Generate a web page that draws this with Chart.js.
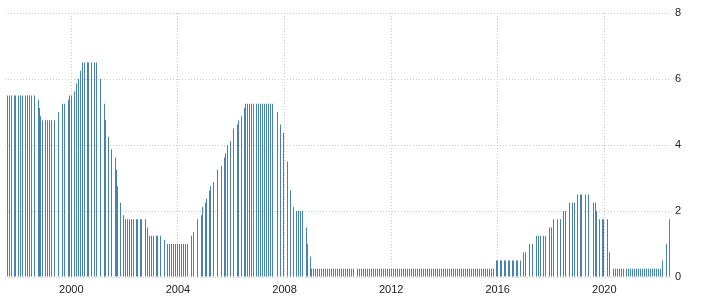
<!DOCTYPE html>
<html>
<head>
<meta charset="utf-8">
<script src="https://cdn.jsdelivr.net/npm/chart.js@4"></script>
<style>
  html, body { margin: 0; padding: 0; background: #fff; }
  #wrap { width: 703px; height: 304px; }
</style>
</head>
<body>
<div id="wrap"><canvas id="rateChart"></canvas></div>
<script>
// observation dates (decimal years) and the rate (%) at each one
const dates = [
    1997.60, 1997.67, 1997.75, 1997.85, 1997.92,
    1998.00, 1998.08, 1998.16, 1998.27, 1998.35, 1998.42, 1998.50, 1998.60, 1998.75, 1998.79, 1998.86, 1998.90,
    1999.02, 1999.10, 1999.17, 1999.25, 1999.36, 1999.51, 1999.65, 1999.76, 1999.88, 1999.92, 1999.99,
    2000.10, 2000.21, 2000.25, 2000.33, 2000.40, 2000.51, 2000.59, 2000.66, 2000.74, 2000.85, 2000.93,
    2001.08, 2001.23, 2001.30, 2001.38, 2001.49, 2001.64, 2001.71, 2001.75, 2001.86, 2001.94,
    2002.02, 2002.09, 2002.17, 2002.24, 2002.32, 2002.43, 2002.50, 2002.58, 2002.65, 2002.77, 2002.84, 2002.92, 2002.99,
    2003.10, 2003.18, 2003.25, 2003.33, 2003.48, 2003.59, 2003.67, 2003.74, 2003.82, 2003.89, 2003.97,
    2004.04, 2004.12, 2004.19, 2004.27, 2004.34, 2004.49, 2004.60, 2004.72, 2004.75, 2004.87, 2004.94,
    2005.02, 2005.09, 2005.20, 2005.24, 2005.32, 2005.50, 2005.62, 2005.73, 2005.78, 2005.85, 2005.97,
    2006.08, 2006.23, 2006.27, 2006.38, 2006.49, 2006.53, 2006.60, 2006.68, 2006.75, 2006.83, 2006.94,
    2007.02, 2007.09, 2007.17, 2007.24, 2007.32, 2007.39, 2007.47, 2007.54, 2007.73, 2007.84, 2007.95,
    2008.11, 2008.22, 2008.33, 2008.44, 2008.52, 2008.59, 2008.67, 2008.82, 2008.86, 2008.97,
    2009.01, 2009.08, 2009.16, 2009.23, 2009.31, 2009.38, 2009.46, 2009.53, 2009.61, 2009.68, 2009.76, 2009.83, 2009.91, 2009.98,
    2010.06, 2010.13, 2010.21, 2010.28, 2010.36, 2010.43, 2010.51, 2010.58, 2010.73, 2010.81, 2010.88, 2010.96,
    2011.03, 2011.11, 2011.18, 2011.26, 2011.33, 2011.41, 2011.48, 2011.56, 2011.63, 2011.71, 2011.78, 2011.86, 2011.93,
    2012.01, 2012.08, 2012.16, 2012.23, 2012.31, 2012.38, 2012.46, 2012.53, 2012.61, 2012.68, 2012.76, 2012.83, 2012.91, 2012.98,
    2013.06, 2013.13, 2013.21, 2013.28, 2013.36, 2013.43, 2013.51, 2013.58, 2013.66, 2013.73, 2013.81, 2013.88, 2013.96,
    2014.03, 2014.11, 2014.18, 2014.26, 2014.33, 2014.41, 2014.48, 2014.56, 2014.63, 2014.71, 2014.78, 2014.86, 2014.93,
    2015.01, 2015.08, 2015.16, 2015.23, 2015.31, 2015.38, 2015.46, 2015.53, 2015.61, 2015.68, 2015.76, 2015.83, 2015.94,
    2016.01, 2016.09, 2016.16, 2016.24, 2016.31, 2016.39, 2016.46, 2016.54, 2016.61, 2016.69, 2016.76, 2016.84, 2016.96,
    2017.06, 2017.21, 2017.31, 2017.44, 2017.54, 2017.61, 2017.71, 2017.81, 2017.94,
    2018.01, 2018.11, 2018.24, 2018.34, 2018.46, 2018.56, 2018.71, 2018.79, 2018.89, 2018.99,
    2019.09, 2019.16, 2019.29, 2019.41, 2019.59, 2019.66, 2019.70, 2019.81, 2019.92, 2019.96,
    2020.11, 2020.18, 2020.34, 2020.41, 2020.49, 2020.56, 2020.64, 2020.71, 2020.83, 2020.90, 2020.98,
    2021.05, 2021.13, 2021.20, 2021.28, 2021.35, 2021.43, 2021.50, 2021.58, 2021.65, 2021.73, 2021.80, 2021.88, 2021.95,
    2022.03, 2022.10, 2022.17, 2022.20, 2022.33, 2022.44
];

const rates = [
    5.5, 5.5, 5.5, 5.5, 5.5,
    5.5, 5.5, 5.5, 5.5, 5.5, 5.5, 5.5, 5.5, 5.375, 5.125, 4.875, 4.75,
    4.75, 4.75, 4.75, 4.75, 4.75, 5.0, 5.25, 5.25, 5.375, 5.5, 5.5,
    5.625, 5.875, 6.0, 6.25, 6.5, 6.5, 6.5, 6.5, 6.5, 6.5, 6.5,
    6.0, 5.25, 4.75, 4.25, 3.875, 3.625, 3.25, 2.75, 2.25, 1.875,
    1.75, 1.75, 1.75, 1.75, 1.75, 1.75, 1.75, 1.75, 1.75, 1.75, 1.5, 1.25, 1.25,
    1.25, 1.25, 1.25, 1.25, 1.125, 1.0, 1.0, 1.0, 1.0, 1.0, 1.0,
    1.0, 1.0, 1.0, 1.0, 1.0, 1.25, 1.375, 1.625, 1.75, 1.875, 2.125,
    2.25, 2.375, 2.625, 2.75, 2.875, 3.25, 3.375, 3.625, 3.75, 4.0, 4.125,
    4.5, 4.625, 4.75, 4.875, 5.125, 5.25, 5.25, 5.25, 5.25, 5.25, 5.25,
    5.25, 5.25, 5.25, 5.25, 5.25, 5.25, 5.25, 5.25, 5.0, 4.625, 4.375,
    3.5, 2.625, 2.125, 2.0, 2.0, 2.0, 2.0, 1.5, 1.0, 0.625,
    0.25, 0.25, 0.25, 0.25, 0.25, 0.25, 0.25, 0.25, 0.25, 0.25, 0.25, 0.25, 0.25, 0.25,
    0.25, 0.25, 0.25, 0.25, 0.25, 0.25, 0.25, 0.25, 0.25, 0.25, 0.25, 0.25,
    0.25, 0.25, 0.25, 0.25, 0.25, 0.25, 0.25, 0.25, 0.25, 0.25, 0.25, 0.25, 0.25,
    0.25, 0.25, 0.25, 0.25, 0.25, 0.25, 0.25, 0.25, 0.25, 0.25, 0.25, 0.25, 0.25, 0.25,
    0.25, 0.25, 0.25, 0.25, 0.25, 0.25, 0.25, 0.25, 0.25, 0.25, 0.25, 0.25, 0.25,
    0.25, 0.25, 0.25, 0.25, 0.25, 0.25, 0.25, 0.25, 0.25, 0.25, 0.25, 0.25, 0.25,
    0.25, 0.25, 0.25, 0.25, 0.25, 0.25, 0.25, 0.25, 0.25, 0.25, 0.25, 0.25, 0.5,
    0.5, 0.5, 0.5, 0.5, 0.5, 0.5, 0.5, 0.5, 0.5, 0.5, 0.5, 0.5, 0.75,
    0.75, 1.0, 1.0, 1.25, 1.25, 1.25, 1.25, 1.25, 1.5,
    1.5, 1.75, 1.75, 1.75, 2.0, 2.0, 2.25, 2.25, 2.25, 2.5,
    2.5, 2.5, 2.5, 2.5, 2.25, 2.25, 2.0, 1.75, 1.75, 1.75,
    1.75, 0.75, 0.25, 0.25, 0.25, 0.25, 0.25, 0.25, 0.25, 0.25, 0.25,
    0.25, 0.25, 0.25, 0.25, 0.25, 0.25, 0.25, 0.25, 0.25, 0.25, 0.25, 0.25, 0.25,
    0.25, 0.25, 0.25, 0.5, 1.0, 1.75
];

const yearTicks = [2000, 2004, 2008, 2012, 2016, 2020];
const rateTicks = [0, 2, 4, 6, 8];

const points = dates.map((d, i) => ({ x: d, y: rates[i] }));

// keep the 1px bars on whole pixels so they stay crisp
const snapBars = {
    id: "snapBars",
    beforeDatasetsDraw(chart) {
        chart.getDatasetMeta(0).data.forEach(bar => {
            bar.x = Math.floor(bar.x) + 0.5;
        });
    }
};

new Chart(document.getElementById("rateChart"), {
    type: "bar",
    data: {
        datasets: [{
            data: points,
            backgroundColor: "#4682b4",
            borderWidth: 0,
            barThickness: 1,
            inflateAmount: 0
        }]
    },
    options: {
        responsive: true,
        maintainAspectRatio: false,
        animation: false,
        layout: { padding: { top: 13, left: 5, right: 0, bottom: 0 } },
        plugins: {
            legend: { display: false },
            tooltip: { enabled: false }
        },
        scales: {
            x: {
                type: "linear",
                offset: false,
                min: 1997.51,
                max: 2022.465,
                afterBuildTicks: scale => {
                    scale.ticks = yearTicks.map(v => ({ value: v }));
                },
                afterFit: scale => { scale.height = 27; },
                grid: { color: "#cccccc", lineWidth: 1, drawTicks: false, offset: false },
                border: { display: false, dash: [1, 2] },
                ticks: {
                    padding: 6,
                    color: "#222",
                    font: { family: "Liberation Sans", size: 11 },
                    callback: v => String(v),
                    maxRotation: 0
                }
            },
            y: {
                position: "right",
                min: 0,
                max: 8,
                afterBuildTicks: scale => {
                    scale.ticks = rateTicks.map(v => ({ value: v }));
                },
                afterFit: scale => { scale.width = 33; },
                grid: { color: "#cccccc", lineWidth: 1, drawTicks: false },
                border: { display: false, dash: [1, 2] },
                ticks: {
                    padding: 5,
                    color: "#222",
                    font: { family: "Liberation Sans", size: 11 }
                }
            }
        }
    },
    plugins: [snapBars]
});
</script>
</body>
</html>
